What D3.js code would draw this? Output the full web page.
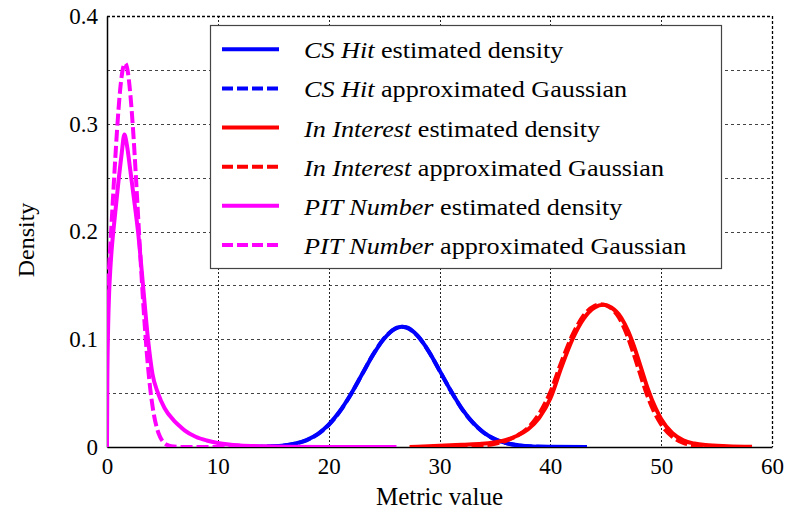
<!DOCTYPE html>
<html><head><meta charset="utf-8">
<script src="https://cdn.jsdelivr.net/npm/d3@7"></script>
<style>body{margin:0;background:#fff}svg{display:block}</style>
</head><body>
<svg id="chart" width="785" height="510"></svg>
<script>
// ---------- data ----------
const xTicks = [0, 10, 20, 30, 40, 50, 60];
const yTicks = [0, 0.1, 0.2, 0.3, 0.4];
const yTickLabels = ["0", "0.1", "0.2", "0.3", "0.4"];
const yGridValues = [0.05, 0.1, 0.15, 0.2, 0.25, 0.3, 0.35];
const xGridValues = [10, 20, 30, 40, 50];
const xLabel = "Metric value";
const yLabel = "Density";
const metricNames = ["CS Hit", "CS Hit", "In Interest", "In Interest", "PIT Number", "PIT Number"];
const curveKinds = [" estimated density", " approximated Gaussian", " estimated density", " approximated Gaussian", " estimated density", " approximated Gaussian"];

const csHitEstimated = [[13,0.0001],[15,0.0006],[16,0.0015],[17,0.0033],[18,0.0065],[19,0.012],[20,0.0208],[21,0.0332],[22,0.049],[23,0.0672],[24,0.0855],[25,0.1005],[26,0.1098],[26.6,0.1115],[27,0.1112],[28,0.1035],[29,0.0892],[30,0.0711],[31,0.0526],[32,0.0358],[33,0.0228],[34,0.0134],[35,0.0073],[36,0.0037],[37,0.0018],[38,0.0008],[40,0.0002],[43.3,0]];
const csHitGaussian = [[13,0.0001],[15,0.0006],[16,0.0014],[17,0.0031],[18,0.0062],[19,0.0117],[20,0.0204],[21,0.0328],[22,0.0488],[23,0.0673],[24,0.0857],[25,0.1009],[26,0.11],[26.6,0.1115],[27,0.1108],[28,0.1033],[29,0.0891],[30,0.071],[31,0.0524],[32,0.0357],[33,0.0226],[34,0.0132],[35,0.0071],[36,0.0036],[37,0.0016],[38,0.0007],[40,0.0001],[43.3,0]];
const inInterestEstimated = [[27.3,0],[28,0.0003],[30,0.0012],[32,0.0022],[33.8,0.003],[35,0.0045],[36,0.0065],[37,0.0105],[38,0.0165],[39,0.027],[40,0.045],[41,0.074],[42,0.1],[43,0.119],[44,0.1295],[44.8,0.132],[45.5,0.1295],[46.4,0.12],[47,0.108],[47.6,0.092],[48.2,0.073],[48.8,0.054],[49.5,0.036],[50,0.026],[51,0.013],[52,0.0062],[53,0.0032],[54,0.0018],[56,0.0008],[58.2,0.0003]];
const inInterestGaussian = [[30,0],[33,0.0008],[35,0.003],[36,0.0058],[37,0.0105],[38,0.018],[39,0.031],[40,0.051],[41,0.079],[42,0.104],[43,0.122],[44,0.131],[44.55,0.1325],[45.3,0.13],[46.2,0.12],[46.8,0.107],[47.4,0.09],[48,0.071],[48.6,0.052],[49.3,0.034],[50,0.021],[51,0.0095],[52,0.0038],[53,0.0013],[54,0.0004],[56,0],[58,0]];
const pitEstimated = [[0,0],[0.03,0.06],[0.1,0.11],[0.2,0.145],[0.3,0.165],[0.42,0.183],[0.7,0.213],[1.0,0.243],[1.3,0.27],[1.57,0.29],[1.8,0.28],[2.1,0.257],[2.5,0.225],[2.8,0.2],[3.25,0.15],[3.7,0.1],[4.1,0.068],[4.6,0.05],[5.2,0.036],[6.0,0.025],[6.5,0.02],[7,0.0155],[8,0.0095],[9,0.006],[10,0.0037],[11,0.0023],[12,0.0015],[14,0.0007],[16,0.0003],[20,0.0001],[26.1,0]];
const pitGaussian = [[0,0.135],[0.3,0.187],[0.6,0.242],[0.9,0.293],[1.2,0.333],[1.45,0.352],[1.63,0.356],[1.85,0.35],[2.1,0.328],[2.4,0.287],[2.7,0.234],[3.0,0.179],[3.3,0.1286],[3.6,0.0863],[3.9,0.0542],[4.2,0.0319],[4.5,0.0176],[4.8,0.0091],[5.1,0.0044],[5.4,0.002],[5.8,0.0006],[6.5,0.0001],[8,0],[26.1,0]];

const seriesData = [csHitEstimated, csHitGaussian, inInterestEstimated, inInterestGaussian, pitEstimated, pitGaussian];

// ---------- styles ----------
const seriesColor = ["#0000ff", "#0000ff", "#ff0000", "#ff0000", "#ff00ff", "#ff00ff"];
const seriesDash = [null, "12,4", null, "12,4", null, "12,4"];
const serif = "'Liberation Serif', 'Times New Roman', serif";

const svg = d3.select("#chart");
const W = 785, H = 510;
const plot = {left: 107, right: 772, top: 16, bottom: 447};

const x = d3.scaleLinear().domain([0, 60]).range([plot.left, plot.right]);
const y = d3.scaleLinear().domain([0, 0.4]).range([plot.bottom, plot.top]);

svg.append("rect").attr("width", W).attr("height", H).attr("fill", "#fff");

// grid
const grid = svg.append("g");
grid.selectAll("line.h").data(yGridValues).join("line")
  .attr("x1", plot.left).attr("x2", plot.right)
  .attr("y1", d => Math.round(y(d)) + 0.5).attr("y2", d => Math.round(y(d)) + 0.5)
  .attr("stroke", "#444").attr("stroke-width", 1).attr("stroke-dasharray", "3,3");
grid.selectAll("line.v").data(xGridValues).join("line")
  .attr("x1", d => Math.round(x(d)) + 0.5).attr("x2", d => Math.round(x(d)) + 0.5)
  .attr("y1", plot.top).attr("y2", plot.bottom)
  .attr("stroke", "#222").attr("stroke-width", 1).attr("stroke-dasharray", "2,2");

// top & right border dashed
svg.append("line").attr("x1", plot.left).attr("x2", plot.right)
  .attr("y1", plot.top + 0.5).attr("y2", plot.top + 0.5)
  .attr("stroke", "#000").attr("stroke-width", 1.3).attr("stroke-dasharray", "3,2");
svg.append("line").attr("x1", plot.right + 0.5).attr("x2", plot.right + 0.5)
  .attr("y1", plot.top).attr("y2", plot.bottom)
  .attr("stroke", "#000").attr("stroke-width", 1.3).attr("stroke-dasharray", "3,2");

// axes via d3
const xAxis = d3.axisBottom(x).tickValues(xTicks).tickFormat(d3.format("d")).tickSize(0).tickPadding(10);
const gx = svg.append("g").attr("transform", `translate(0,${plot.bottom})`).call(xAxis);
gx.select(".domain").attr("stroke", "#000").attr("stroke-width", 1.5);
gx.selectAll("text").attr("font-family", serif).attr("font-size", 23).attr("fill", "#000")
  .attr("dy", "0.72em");

const yAxis = d3.axisLeft(y).tickValues(yTicks).tickFormat((d, i) => yTickLabels[i]).tickSize(0).tickPadding(9);
const gy = svg.append("g").attr("transform", `translate(${plot.left},0)`).call(yAxis);
gy.select(".domain").attr("stroke", "#000").attr("stroke-width", 1.5);
gy.selectAll("text").attr("font-family", serif).attr("font-size", 23).attr("fill", "#000");

// axis titles
svg.append("text").attr("x", (plot.left + plot.right) / 2).attr("y", 505)
  .attr("text-anchor", "middle").attr("font-family", serif).attr("font-size", 25).text(xLabel);
svg.append("text").attr("transform", `translate(34,${240}) rotate(-90)`)
  .attr("text-anchor", "middle").attr("font-family", serif).attr("font-size", 24).text(yLabel);

// curves
svg.append("clipPath").attr("id", "clip").append("rect")
  .attr("x", plot.left).attr("y", plot.top - 5).attr("width", plot.right - plot.left).attr("height", plot.bottom - plot.top + 5);
const line = d3.line().x(d => x(d[0])).y(d => y(d[1])).curve(d3.curveMonotoneX);
const curves = svg.append("g").attr("clip-path", "url(#clip)");
seriesData.forEach((data, i) => {
  curves.append("path").datum(data).attr("d", line)
    .attr("fill", "none").attr("stroke", seriesColor[i]).attr("stroke-width", 4)
    .attr("stroke-linejoin", "round")
    .attr("stroke-dasharray", seriesDash[i]);
});

// legend
const lg = svg.append("g");
lg.append("rect").attr("x", 210.5).attr("y", 25.5).attr("width", 511).attr("height", 243)
  .attr("fill", "#fff").attr("stroke", "#444").attr("stroke-width", 1.2);
const rowY = d3.scaleLinear().domain([0, 5]).range([49.3, 245]);
metricNames.forEach((name, i) => {
  const yy = rowY(i);
  lg.append("line").attr("x1", 222).attr("x2", 279).attr("y1", yy).attr("y2", yy)
    .attr("stroke", seriesColor[i]).attr("stroke-width", 4)
    .attr("stroke-dasharray", seriesDash[i] ? "11,4" : null);
  const t = lg.append("text").attr("transform", `translate(304,${yy + 9}) scale(1.09,1)`)
    .attr("font-family", serif).attr("font-size", 24).attr("fill", "#000");
  t.append("tspan").attr("font-style", "italic").text(name);
  t.append("tspan").text(curveKinds[i]);
});
</script>
</body></html>
